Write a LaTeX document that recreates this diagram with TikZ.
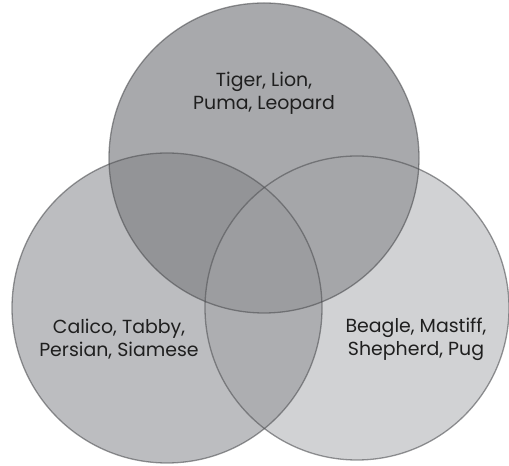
\documentclass[tikz,border=0pt]{standalone}
\usepackage{fontspec}
\setmainfont{Poppins}
\tikzset{
  rim/.style = {draw = rimcol, draw opacity = 0.6, line width = 1.3bp},
  setname/.style = {align = center, text = black!88, font = \fontsize{19}{23}\selectfont}
}
\begin{document}
\begin{tikzpicture}[x=1bp,y=1bp]
\useasboundingbox (0,0) rectangle (509,466);
\definecolor{leftcol}{RGB}{188,189,192}
\definecolor{rightcol}{RGB}{209,210,212}
\definecolor{topcol}{RGB}{168,169,172}
\definecolor{lrcol}{RGB}{173,174,177}
\definecolor{tlcol}{RGB}{147,148,151}
\definecolor{trcol}{RGB}{165,166,169}
\definecolor{allcol}{RGB}{156,157,160}
\definecolor{rimcol}{RGB}{80,81,84}
\coordinate (cats) at (167,158);
\coordinate (dogs) at (357,158);
\coordinate (bigcats) at (264,308);
\fill [leftcol] (cats) circle (155);
\fill [rightcol] (dogs) circle (152);
\begin{scope}
\clip (cats) circle (155);
\fill [lrcol] (dogs) circle (152);
\end{scope}
\fill [topcol] (bigcats) circle (155);
\begin{scope}
\clip (bigcats) circle (155);
\fill [tlcol] (cats) circle (155);
\fill [trcol] (dogs) circle (152);
\clip (cats) circle (155);
\fill [allcol] (dogs) circle (152);
\end{scope}
\draw [rim] (cats) circle (155);
\draw [rim] (dogs) circle (152);
\draw [rim] (bigcats) circle (155);
\node [setname] (bigcatnames) at (264,373) {Tiger, Lion,\\Puma, Leopard};
\node [setname] (catnames) at (119,127) {Calico, Tabby,\\Persian, Siamese};
\node [setname] (dognames) at (416,127) {Beagle, Mastiff,\\Shepherd, Pug};
\end{tikzpicture}
\end{document}
